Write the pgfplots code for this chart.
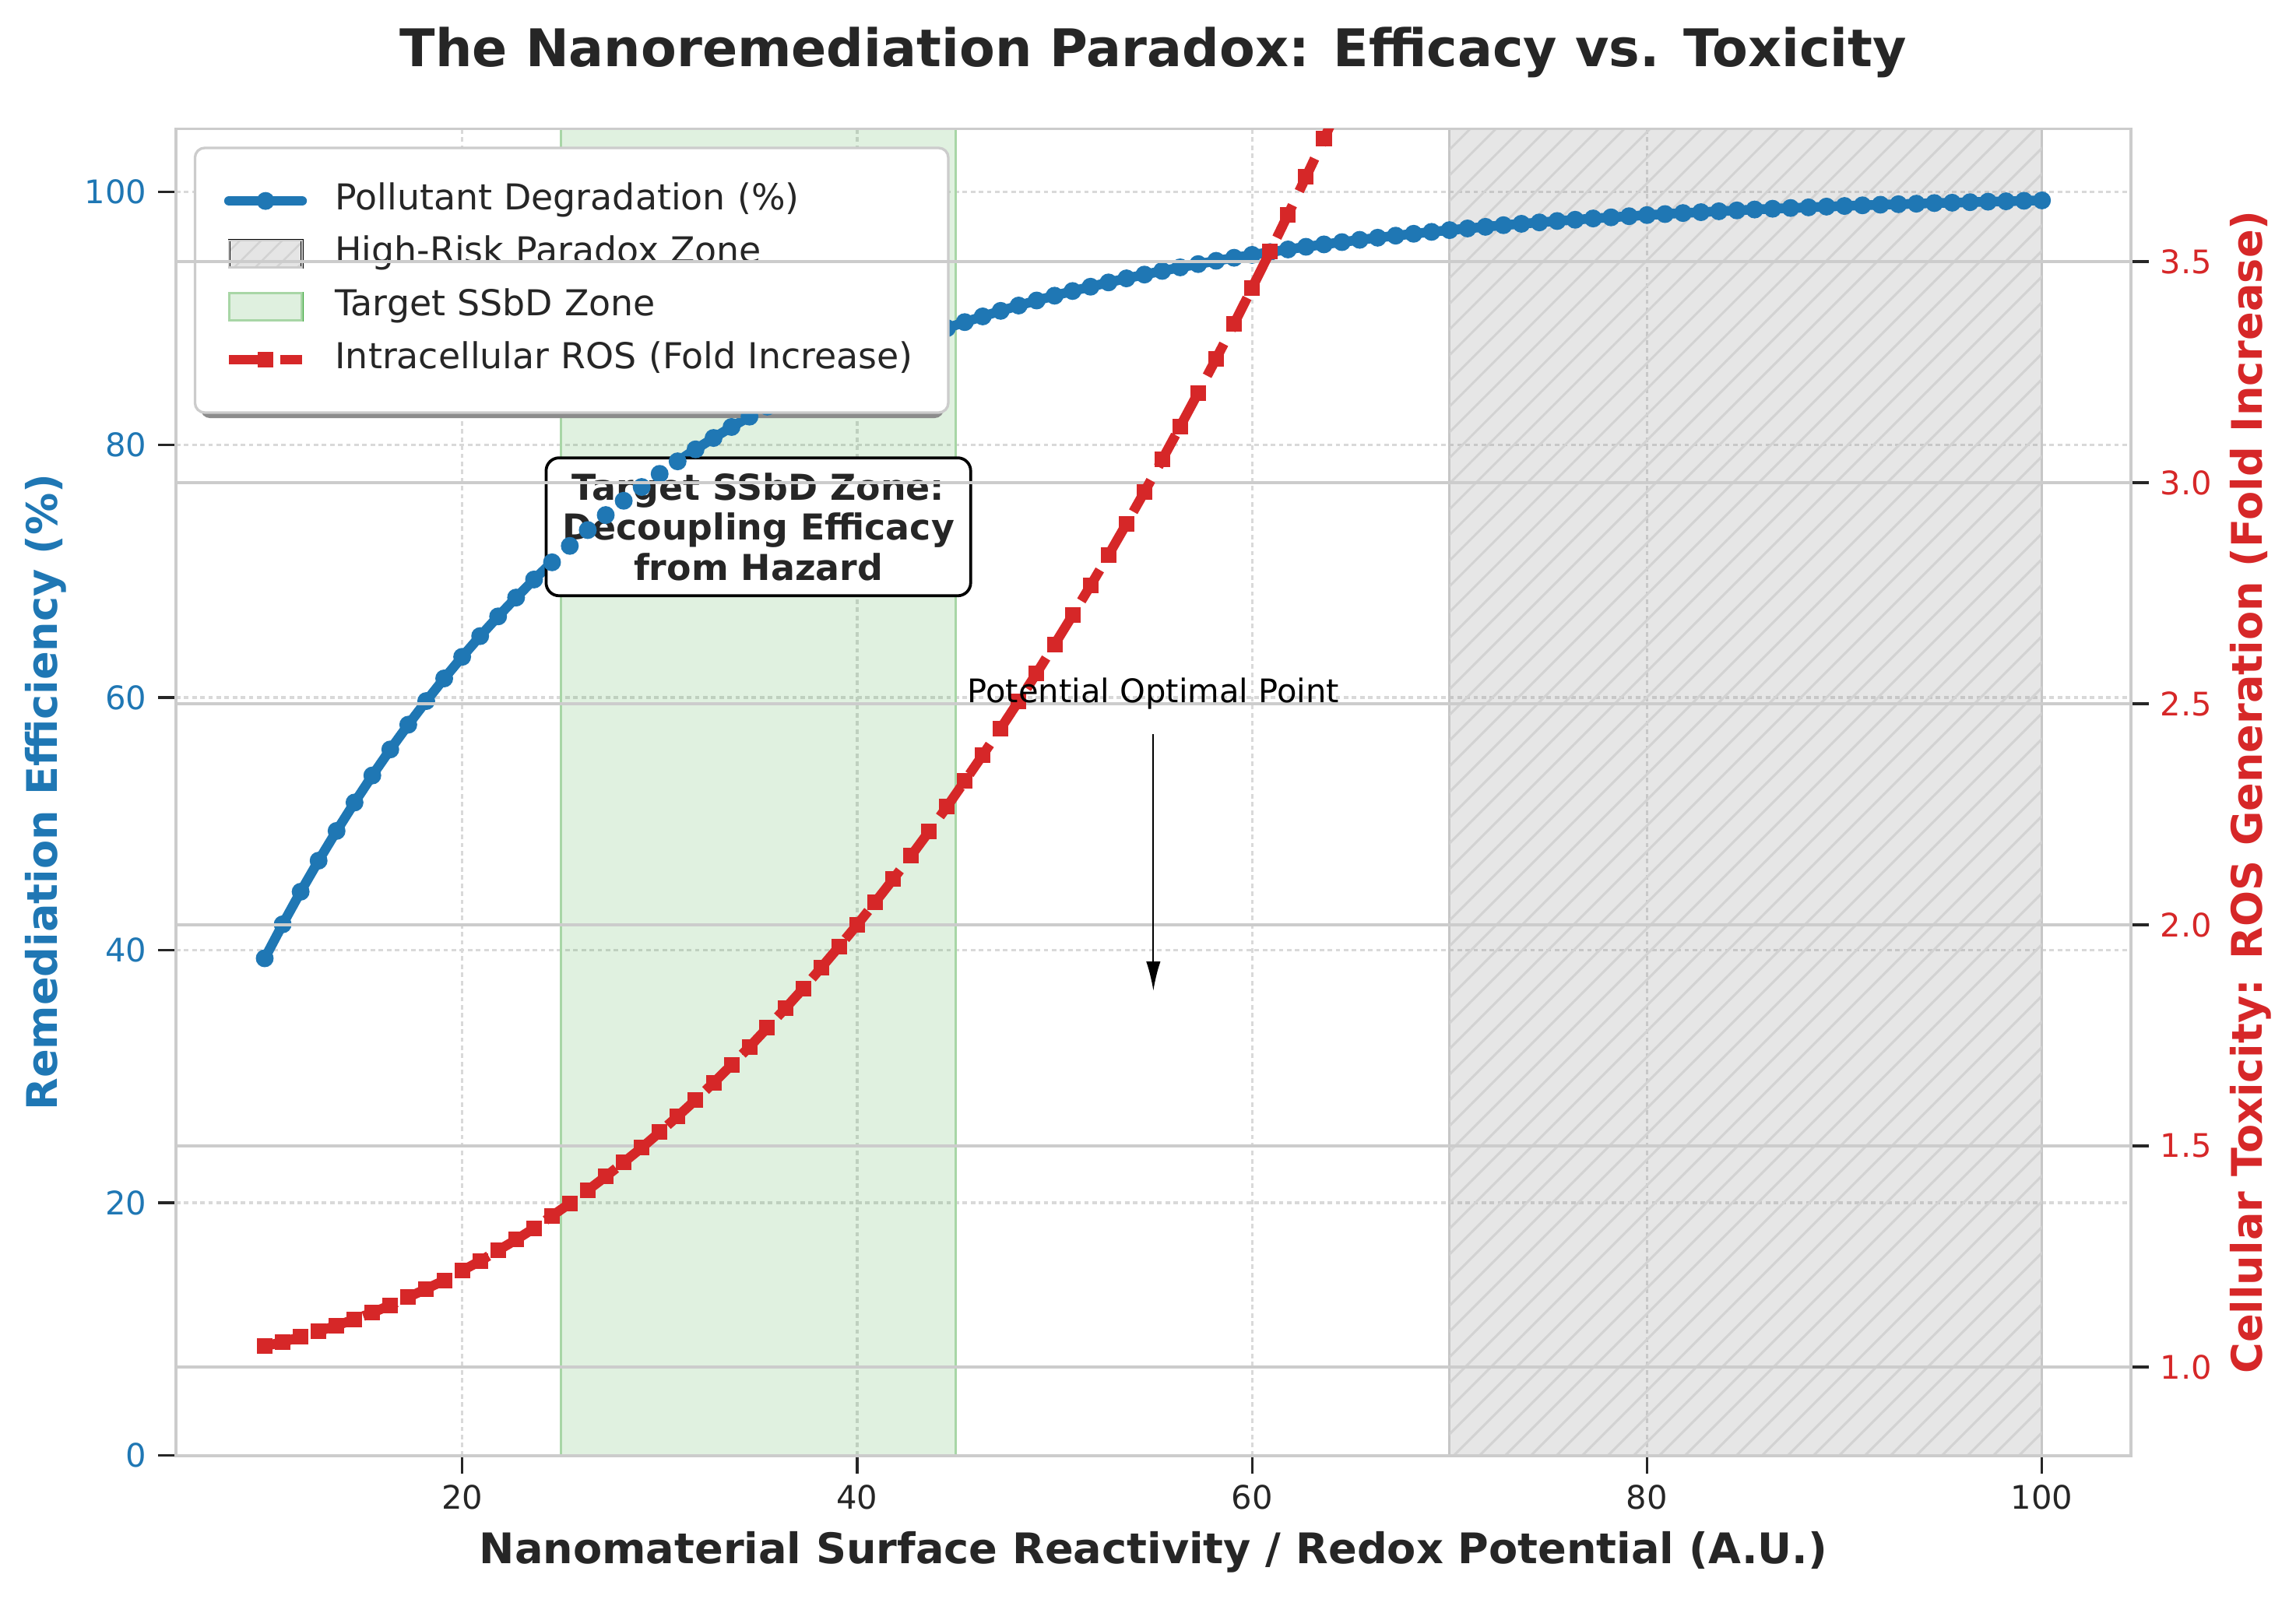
\documentclass[border=0pt]{standalone}
\usepackage{fontspec}
\setmainfont{DejaVu Sans}
\usepackage{pgfplots}
\usepackage{pgfplotstable}
\pgfplotsset{compat=1.18}
\usetikzlibrary{patterns.meta,arrows.meta}
\definecolor{tblue}{HTML}{1F77B4}
\definecolor{tred}{HTML}{D62728}
\definecolor{tgreen}{HTML}{2CA02C}
\definecolor{txt}{HTML}{262626}
\definecolor{gedge}{RGB}{168,214,166}

\pgfplotstableread{
x y
10.00 39.35
10.91 42.04
11.82 44.62
12.73 47.08
13.64 49.43
14.55 51.68
15.45 53.82
16.36 55.88
17.27 57.84
18.18 59.71
19.09 61.50
20.00 63.21
20.91 64.85
21.82 66.41
22.73 67.90
23.64 69.33
24.55 70.69
25.45 71.99
26.36 73.24
27.27 74.43
28.18 75.56
29.09 76.65
30.00 77.69
30.91 78.68
31.82 79.63
32.73 80.53
33.64 81.40
34.55 82.22
35.45 83.01
36.36 83.77
37.27 84.49
38.18 85.18
39.09 85.84
40.00 86.47
40.91 87.07
41.82 87.64
42.73 88.19
43.64 88.72
44.55 89.22
45.45 89.70
46.36 90.15
47.27 90.59
48.18 91.01
49.09 91.41
50.00 91.79
50.91 92.16
51.82 92.50
52.73 92.84
53.64 93.16
54.55 93.46
55.45 93.75
56.36 94.03
57.27 94.29
58.18 94.55
59.09 94.79
60.00 95.02
60.91 95.24
61.82 95.45
62.73 95.66
63.64 95.85
64.55 96.03
65.45 96.21
66.36 96.38
67.27 96.54
68.18 96.69
69.09 96.84
70.00 96.98
70.91 97.11
71.82 97.24
72.73 97.37
73.64 97.48
74.55 97.59
75.45 97.70
76.36 97.80
77.27 97.90
78.18 97.99
79.09 98.08
80.00 98.17
80.91 98.25
81.82 98.33
82.73 98.40
83.64 98.47
84.55 98.54
85.45 98.61
86.36 98.67
87.27 98.73
88.18 98.78
89.09 98.84
90.00 98.89
90.91 98.94
91.82 98.99
92.73 99.03
93.64 99.07
94.55 99.12
95.45 99.15
96.36 99.19
97.27 99.23
98.18 99.26
99.09 99.30
100.00 99.33
}\degdata

\pgfplotstableread{
x y
10.00 1.047
10.91 1.057
11.82 1.068
12.73 1.081
13.64 1.094
14.55 1.108
15.45 1.123
16.36 1.140
17.27 1.158
18.18 1.177
19.09 1.196
20.00 1.218
20.91 1.240
21.82 1.264
22.73 1.288
23.64 1.314
24.55 1.342
25.45 1.370
26.36 1.400
27.27 1.431
28.18 1.463
29.09 1.496
30.00 1.531
30.91 1.567
31.82 1.604
32.73 1.643
33.64 1.683
34.55 1.724
35.45 1.767
36.36 1.811
37.27 1.856
38.18 1.903
39.09 1.951
40.00 2.000
40.91 2.051
41.82 2.103
42.73 2.156
43.64 2.211
44.55 2.267
45.45 2.325
46.36 2.384
47.27 2.444
48.18 2.506
49.09 2.569
50.00 2.634
50.91 2.700
51.82 2.767
52.73 2.836
53.64 2.907
54.55 2.979
55.45 3.052
56.36 3.127
57.27 3.203
58.18 3.280
59.09 3.359
60.00 3.440
60.91 3.522
61.82 3.606
62.73 3.691
63.64 3.777
64.55 3.865
65.45 3.955
}\rosdata

\pgfplotsset{
  linelegend/.style={legend image code/.code={\draw[sharp corners,mark repeat=2,mark phase=2,##1] plot coordinates {(0pt,0pt) (11.25pt,0pt) (22.5pt,0pt)};}},
  hatchlegend/.style={legend image code/.code={%
    \fill[sharp corners,gray,fill opacity=0.2] (0pt,-4.15pt) rectangle (22.5pt,4.15pt);
    \path[sharp corners,pattern={Lines[angle=45,distance=4.6pt,line width=0.6pt]},pattern color=gray!35] (0pt,-4.15pt) rectangle (22.5pt,4.15pt);
    \draw[sharp corners,gray!40,line width=0.6pt] (0pt,-4.15pt) rectangle (22.5pt,4.15pt);}},
  greenlegend/.style={legend image code/.code={%
    \fill[sharp corners,tgreen,fill opacity=0.15] (0pt,-4.15pt) rectangle (22.5pt,4.15pt);
    \draw[sharp corners,gedge,line width=0.7pt] (0pt,-4.15pt) rectangle (22.5pt,4.15pt);}},
  commonaxis/.style={
    at={(0pt,0pt)}, anchor=south west,
    scale only axis, width=602.6pt, height=409pt,
    xmin=5.5, xmax=104.5,
    tick align=outside, major tick length=5.5pt,
    tick style={color=txt, line width=0.8pt},
    axis line style={color=gray!40, line width=0.9pt},
    ticklabel style={font=\fontsize{10}{12}\selectfont},
    /pgf/number format/assume math mode=true,
  },
}

\begin{document}
\begin{tikzpicture}
\begin{axis}[
  commonaxis,
  ymin=0, ymax=105,
  xtick={20,40,60,80,100}, ytick={0,20,40,60,80,100},
  tick pos=left,
  grid=major,
  major grid style={color=gray!30, line width=0.8pt, dash pattern=on 1.4pt off 1.1pt},
  xticklabel style={text=txt},
  yticklabel style={text=tblue},
  xlabel={Nanomaterial Surface Reactivity / Redox Potential (A.U.)},
  xlabel style={font=\bfseries\fontsize{13}{15}\selectfont, text=txt, at={(axis description cs:0.5,-0.0729)}, anchor=center},
  ylabel={Remediation Efficiency (\%)},
  ylabel style={font=\bfseries\fontsize{13}{15}\selectfont, text=tblue, at={(axis description cs:-0.0665,0.5)}, anchor=center},
  title={The Nanoremediation Paradox: Efficacy vs. Toxicity},
  title style={font=\bfseries\fontsize{16}{19}\selectfont, text=txt, at={(axis description cs:0.5,1.0324)}, anchor=base},
  legend cell align=left,
  legend style={
    at={(axis description cs:0,1)}, anchor=north west, xshift=5.5pt, yshift=-5.5pt,
    draw=gray!40, line width=0.8pt, fill=white, rounded corners=3pt,
    font=\fontsize{11}{13}\selectfont, text=txt,
    inner xsep=9pt, inner ysep=10.95pt,
    row sep=5.5pt, column sep=8.7pt,
    nodes={inner sep=0pt, text height=8.2pt, text depth=2.6pt, text width=180pt, anchor=west},
  },
]
% Target SSbD zone
\addplot[forget plot, draw=gedge, line width=0.7pt, fill=tgreen, fill opacity=0.15]
  coordinates {(25,0) (25,105) (45,105) (45,0)} -- cycle;
% High-risk paradox zone
\addplot[forget plot, draw=gray!45, line width=0.7pt, fill=gray, fill opacity=0.2]
  coordinates {(70,0) (70,105) (100,105) (100,0)} -- cycle;
\addplot[forget plot, draw=none, pattern={Lines[angle=45,distance=5.6pt,line width=0.7pt]}, pattern color=gray!35]
  coordinates {(70,0) (70,105) (100,105) (100,0)} -- cycle;
% Pollutant degradation
\addplot[forget plot, tblue, line width=3pt, line join=round, line cap=round,
  mark=*, mark size=2.5pt, mark options={solid, line width=0.5pt}] table {\degdata};

% legend shadow
\fill[black!45, rounded corners=3pt] (axis description cs:0.01261,0.78191) rectangle (axis description cs:0.39296,0.98142);

\node[draw=black, line width=0.9pt, rounded corners=4pt, fill=white, align=center,
  font=\bfseries\fontsize{11}{12.4}\selectfont, text=txt, inner xsep=5pt, inner ysep=4.6pt]
  at (axis cs:35,73.5) {Target SSbD Zone:\\Decoupling Efficacy\\from Hazard};

\addlegendimage{linelegend, tblue, line width=3pt, line cap=round, mark=*, mark size=2.5pt, mark options={solid, line width=0.5pt}}
\addlegendentry{Pollutant Degradation (\%)}
\addlegendimage{hatchlegend}
\addlegendentry{High-Risk Paradox Zone}
\addlegendimage{greenlegend}
\addlegendentry{Target SSbD Zone}
\addlegendimage{linelegend, tred, line width=3pt, dash pattern=on 11.1pt off 4.8pt, mark=square*, mark size=2.15pt, mark options={solid, line width=0.5pt}}
\addlegendentry{Intracellular ROS (Fold Increase)}
\end{axis}

\begin{axis}[
  commonaxis,
  ymin=0.8, ymax=3.8,
  xtick=\empty, ytick={1.0,1.5,2.0,2.5,3.0,3.5},
  ytick pos=right, yticklabel pos=right,
  ymajorgrids=true, xmajorgrids=false,
  major grid style={color=gray!40, line width=0.8pt, solid},
  yticklabel style={text=tred, /pgf/number format/fixed, /pgf/number format/fixed zerofill, /pgf/number format/precision=1},
  ylabel={Cellular Toxicity: ROS Generation (Fold Increase)},
  ylabel style={font=\bfseries\fontsize{13}{15}\selectfont, text=tred, at={(axis description cs:1.0614,0.5)}, anchor=center},
  clip marker paths=true,
]
\addplot[tred, line width=3pt, dash pattern=on 11.1pt off 4.8pt,
  mark=square*, mark size=2.15pt, mark options={solid, line width=0.5pt}] table {\rosdata};
\node[anchor=base, font=\fontsize{10}{12}\selectfont, text=black] at (axis cs:55,2.502) {Potential Optimal Point};
\draw[black, line width=0.45pt, -{Latex[length=9pt,width=4.4pt]}] (axis cs:55,2.431) -- (axis cs:55,1.851);
\end{axis}
\pgfresetboundingbox
\path[use as bounding box] (-54.2pt,-44.2pt) rectangle (653.5pt,448.7pt);
\end{tikzpicture}
\end{document}
